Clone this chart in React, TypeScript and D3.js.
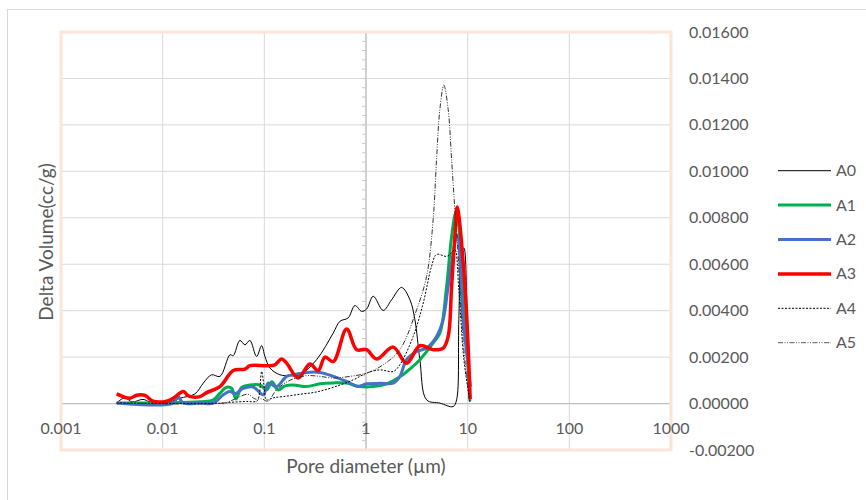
import React from "react";
import * as d3 from "d3";

const xTickVals = [0.001, 0.01, 0.1, 1, 10, 100, 1000];
const xTickLabels = ["0.001", "0.01", "0.1", "1", "10", "100", "1000"];
const yTickVals = [-0.002, 0, 0.002, 0.004, 0.006, 0.008, 0.01, 0.012, 0.014, 0.016];
const yTickLabels = ["-0.00200", "0.00000", "0.00200", "0.00400", "0.00600", "0.00800", "0.01000", "0.01200", "0.01400", "0.01600"];
const seriesNames = ["A0", "A1", "A2", "A3", "A4", "A5"];

// [pore diameter (µm), delta volume (cc/g)]
const a0: [number, number][] = [
  [0.00353, 0.00003], [0.00426, 0.00025], [0.00499, 0.00007], [0.0064, 0.00018], [0.0075, 0.00007],
  [0.01054, 0.00003], [0.0118, 0.00007], [0.0148, 0.00023], [0.0208, 0.00042], [0.0251, 0.00088],
  [0.0303, 0.00124], [0.0366, 0.00117], [0.0459, 0.0021], [0.0494, 0.00206], [0.0575, 0.00272],
  [0.0644, 0.00253], [0.0721, 0.00272], [0.0839, 0.00203], [0.094, 0.00249], [0.1014, 0.00203],
  [0.1135, 0.00153], [0.1422, 0.00124], [0.1786, 0.0012], [0.2239, 0.00124], [0.3266, 0.00189],
  [0.4764, 0.00304], [0.5534, 0.00354], [0.6683, 0.00369], [0.778, 0.00422], [0.906, 0.00397],
  [1.014, 0.00407], [1.178, 0.00462], [1.476, 0.00401], [1.786, 0.00447], [2.239, 0.005],
  [2.704, 0.00447], [3.027, 0.00361], [3.388, 0.00189], [3.945, 0.00016], [5.333, 0.00002],
  [7.194, -0.00013], [7.78, 0.00016], [8.185, 0.00361], [8.71, 0.0065], [9.183, 0.0067],
  [9.886, 0.00361], [10.52, 0.00009],
];

const a1: [number, number][] = [
  [0.00353, 0.00002], [0.0233, 0.00008], [0.0315, 0.00016], [0.0366, 0.00045], [0.0426, 0.0007],
  [0.0476, 0.00066], [0.0526, 0.0002], [0.0598, 0.0007], [0.0721, 0.0008], [0.0906, 0.0008],
  [0.1054, 0.00059], [0.1189, 0.00094], [0.1361, 0.00059], [0.1596, 0.00076], [0.1923, 0.0008],
  [0.2606, 0.00073], [0.3524, 0.00085], [0.4764, 0.00089], [0.6442, 0.00088], [0.871, 0.00073],
  [1.178, 0.00073], [1.596, 0.00085], [2.153, 0.00115], [2.506, 0.00137], [3.388, 0.00189],
  [4.581, 0.00261], [5.333, 0.00304], [6.209, 0.00505], [6.95, 0.0072], [7.656, 0.00823],
  [8.77, 0.0062], [9.594, 0.0032], [10.52, 0.00012],
];

const a2: [number, number][] = [
  [0.00353, 0.00002], [0.0127, 0.00002], [0.0141, 0.0003], [0.016, 0.00002], [0.0233, 0.00002],
  [0.0315, 0.00002], [0.0394, 0.00038], [0.0459, 0.00052], [0.0514, 0.00042], [0.0621, 0.00065],
  [0.0778, 0.00071], [0.0975, 0.00038], [0.1091, 0.00088], [0.1321, 0.00073], [0.1656, 0.00117],
  [0.1923, 0.00124], [0.2606, 0.00134], [0.3524, 0.00134], [0.4764, 0.00117], [0.6442, 0.00095],
  [0.8375, 0.00074], [1.014, 0.00085], [1.371, 0.00087], [1.849, 0.00088], [2.153, 0.00117],
  [2.506, 0.00189], [3.148, 0.00224], [3.945, 0.00239], [4.943, 0.00289], [5.741, 0.00361],
  [6.427, 0.00505], [7.194, 0.00649], [7.889, 0.00724], [9.036, 0.00361], [10.12, 0.0016],
  [10.66, 0.00073],
];

const a3: [number, number][] = [
  [0.00353, 0.00042], [0.00476, 0.00023], [0.00555, 0.00036], [0.0067, 0.00035], [0.00804, 0.0001],
  [0.01094, 0.0001], [0.0127, 0.00023], [0.016, 0.00052], [0.0179, 0.00033], [0.0233, 0.0003],
  [0.0271, 0.00047], [0.0366, 0.00073], [0.0494, 0.00142], [0.0644, 0.00148], [0.0721, 0.00163],
  [0.1054, 0.00163], [0.127, 0.00167], [0.1479, 0.00192], [0.1656, 0.00174], [0.2153, 0.0011],
  [0.2805, 0.0017], [0.3388, 0.00142], [0.3945, 0.002], [0.4764, 0.00181], [0.6442, 0.00321],
  [0.809, 0.00232], [1.014, 0.00232], [1.271, 0.00192], [1.849, 0.00243], [2.506, 0.00174],
  [3.388, 0.00249], [4.581, 0.00232], [5.741, 0.00239], [6.427, 0.00289], [6.95, 0.00505],
  [7.482, 0.0072], [7.889, 0.00846], [9.397, 0.00505], [10.59, 0.00019],
];

const a4: [number, number][] = [
  [0.00353, 0.00002], [0.0394, 0.00002], [0.0459, 0.00005], [0.067, 0.00009], [0.0839, 0.0001],
  [0.0885, 0.0003], [0.094, 0.00138], [0.0991, 0.0008], [0.1054, 0.00016], [0.1225, 0.00025],
  [0.1535, 0.0003], [0.2239, 0.0004], [0.3266, 0.0005], [0.4764, 0.0007], [0.7482, 0.00102],
  [1.014, 0.00131], [1.371, 0.00145], [1.849, 0.00138], [2.153, 0.00167], [2.911, 0.00289],
  [3.656, 0.00433], [4.416, 0.00591], [4.943, 0.00642], [6.209, 0.00634], [6.95, 0.00649],
  [7.482, 0.00663], [8.185, 0.0049], [9.183, 0.00189], [10.52, 0.00007],
];

const a5: [number, number][] = [
  [0.00353, 0.00002], [0.0394, 0.00002], [0.0459, 0.0001], [0.0575, 0.0003], [0.069, 0.0004],
  [0.0809, 0.0002], [0.0947, 0.0002], [0.1084, 0.0001], [0.132, 0.0006], [0.1786, 0.001],
  [0.2606, 0.0012], [0.352, 0.00117], [0.476, 0.0011], [0.695, 0.00117], [1.014, 0.00131],
  [1.476, 0.00167], [2.153, 0.00232], [3.148, 0.00404], [3.945, 0.00548], [4.58, 0.00793],
  [4.94, 0.0105], [5.33, 0.01267], [5.83, 0.01371], [6.43, 0.01267], [6.95, 0.0105],
  [7.48, 0.00836], [7.89, 0.00706], [8.71, 0.00361], [9.59, 0.00145], [10.52, 0.00007],
];

const seriesData = [a0, a1, a2, a3, a4, a5];
const seriesStyle = [
  { color: "#000000", width: 1, dash: "" },
  { color: "#00B050", width: 3, dash: "" },
  { color: "#4472C4", width: 3, dash: "" },
  { color: "#FF0000", width: 3.5, dash: "" },
  { color: "#000000", width: 1, dash: "2 1.5" },
  { color: "#333333", width: 1, dash: "5 1.5 1 1.5 1 1.5" },
];

const W = 866;
const H = 500;
const FONT = "Lato, 'Open Sans', sans-serif";
const TXT = "#595959";

export default function App() {
  const x = d3.scaleLog().domain([0.001, 1000]).range([61, 671]);
  const y = d3.scaleLinear().domain([-0.002, 0.016]).range([450, 32]);
  const line = d3
    .line<[number, number]>()
    .x((d) => x(d[0]))
    .y((d) => y(d[1]))
    .curve(d3.curveCatmullRom.alpha(0.5));

  const minor = d3.range(-0.002, 0.01601, 0.0004);
  const axisX = x(1);

  return (
    <svg width={W} height={H} style={{ position: "absolute", left: 0, top: 0 }}>
      <rect x={0} y={0} width={W} height={H} fill="#ffffff" />
      <rect x={7.5} y={9.5} width={W + 20} height={H + 20} fill="none" stroke="#D9D9D9" strokeWidth={1} />

      {/* gridlines */}
      {yTickVals.map((v, i) => (
        <line key={"gy" + i} x1={61} x2={671} y1={y(v)} y2={y(v)} stroke="#D9D9D9" strokeWidth={1} />
      ))}
      {xTickVals.map((v, i) => (
        <line key={"gx" + i} x1={x(v)} x2={x(v)} y1={32} y2={450} stroke="#D9D9D9" strokeWidth={1} />
      ))}
      {/* x axis at 0 */}
      <line x1={61} x2={671} y1={y(0)} y2={y(0)} stroke="#BFBFBF" strokeWidth={1.2} />
      {/* y axis at x=1 */}
      <line x1={axisX} x2={axisX} y1={32} y2={450} stroke="#D0D0D0" strokeWidth={2} />
      {minor.map((v, i) => (
        <line key={"mt" + i} x1={axisX - 4} x2={axisX} y1={y(v)} y2={y(v)} stroke="#C8C8C8" strokeWidth={1} />
      ))}

      {/* plot area border */}
      <rect x={61} y={32} width={610} height={418} fill="none" stroke="#FBE5D6" strokeWidth={3} />

      {/* series */}
      {seriesData.map((s, i) => (
        <path
          key={"s" + i}
          d={line(s) || ""}
          fill="none"
          stroke={seriesStyle[i].color}
          strokeWidth={seriesStyle[i].width}
          strokeDasharray={seriesStyle[i].dash}
          strokeLinejoin="round"
        />
      ))}

      {/* x tick labels */}
      {xTickVals.map((v, i) => (
        <text key={"xl" + i} x={x(v)} y={433.5} textAnchor="middle" fontFamily={FONT} fontSize={16} fill={TXT}>
          {xTickLabels[i]}
        </text>
      ))}
      {/* y tick labels on the right */}
      {yTickVals.map((v, i) => (
        <text key={"yl" + i} x={689} y={y(v) + 5.5} textAnchor="start" fontFamily={FONT} fontSize={16} fill={TXT}>
          {yTickLabels[i]}
        </text>
      ))}

      {/* axis titles */}
      <text x={366} y={473} textAnchor="middle" fontFamily={FONT} fontSize={19} fill={TXT}>
        Pore diameter (µm)
      </text>
      <text
        transform={`translate(53,242) rotate(-90)`}
        textAnchor="middle"
        fontFamily={FONT}
        fontSize={19}
        fill={TXT}
      >
        Delta Volume(cc/g)
      </text>

      {/* legend */}
      {seriesNames.map((n, i) => {
        const ly = 170.7 + i * 34.4;
        return (
          <g key={"lg" + i}>
            <line
              x1={778}
              x2={831}
              y1={ly}
              y2={ly}
              stroke={i === 5 ? "#595959" : seriesStyle[i].color}
              strokeWidth={seriesStyle[i].width}
              strokeDasharray={seriesStyle[i].dash}
            />
            <text x={836} y={ly + 5.5} fontFamily={FONT} fontSize={16} fill={TXT}>
              {n}
            </text>
          </g>
        );
      })}
    </svg>
  );
}
